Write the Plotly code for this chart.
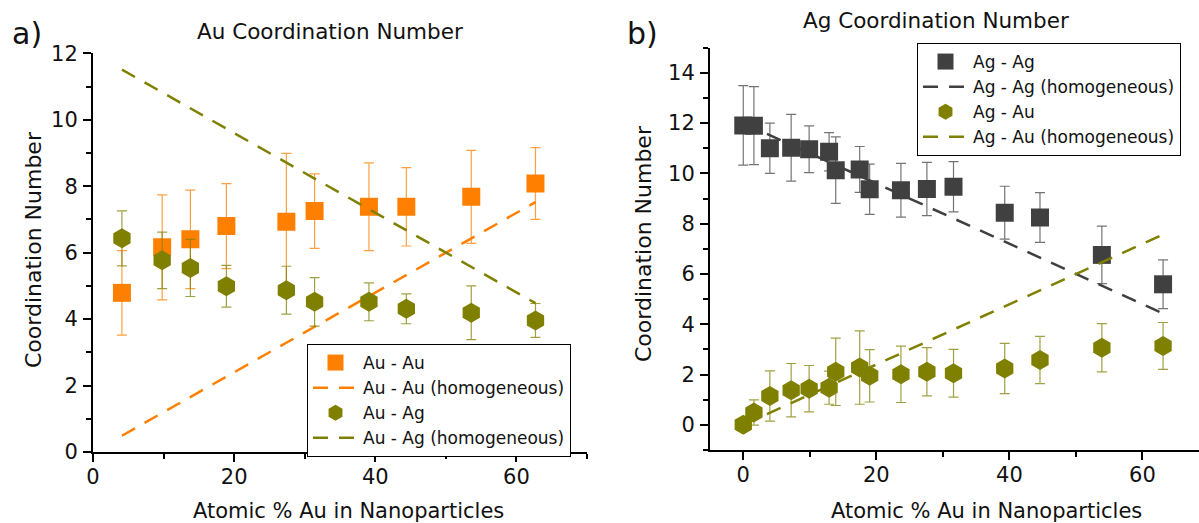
import plotly.graph_objects as go

# ---------------- data: panel a) Au coordination ----------------
au_x = [4.1, 9.8, 13.8, 18.9, 27.4, 31.4, 39.1, 44.4, 53.6, 62.7]
au_au = [4.79, 6.16, 6.40, 6.80, 6.93, 7.25, 7.38, 7.38, 7.68, 8.08]
au_au_err = [1.27, 1.58, 1.48, 1.28, 2.06, 1.12, 1.32, 1.18, 1.40, 1.08]
au_ag = [6.43, 5.77, 5.54, 4.99, 4.87, 4.52, 4.52, 4.31, 4.19, 3.96]
au_ag_err = [0.83, 0.85, 0.86, 0.63, 0.72, 0.73, 0.57, 0.45, 0.81, 0.51]
au_au_hom = [0.49, 1.18, 1.66, 2.27, 3.29, 3.77, 4.69, 5.33, 6.43, 7.52]
au_ag_hom = [11.51, 10.82, 10.34, 9.73, 8.71, 8.23, 7.31, 6.67, 5.57, 4.48]

# ---------------- data: panel b) Ag coordination ----------------
ag_x = [0.0, 1.6, 4.0, 7.2, 9.9, 12.9, 13.9, 17.5, 19.0, 23.7, 27.6, 31.6, 39.3, 44.6, 53.9, 63.1]
ag_ag = [11.91, 11.90, 11.00, 11.02, 10.96, 10.86, 10.13, 10.16, 9.37, 9.33, 9.38, 9.47, 8.44, 8.25, 6.76, 5.59]
ag_ag_err = [1.58, 1.55, 1.00, 1.33, 0.93, 0.76, 1.32, 0.91, 1.00, 1.07, 1.06, 1.00, 1.05, 0.99, 1.14, 0.97]
ag_au = [0.00, 0.49, 1.15, 1.38, 1.44, 1.48, 2.11, 2.28, 1.95, 2.01, 2.11, 2.05, 2.24, 2.58, 3.07, 3.14]
ag_au_err = [0.10, 0.50, 1.00, 1.06, 0.92, 0.66, 1.34, 1.46, 1.04, 1.12, 0.96, 0.95, 1.00, 0.94, 0.96, 0.93]
ag_ag_hom = [12.00, 11.81, 11.52, 11.14, 10.81, 10.45, 10.33, 9.90, 9.72, 9.16, 8.69, 8.21, 7.28, 6.65, 5.53, 4.43]
ag_au_hom = [0.00, 0.19, 0.48, 0.86, 1.19, 1.55, 1.67, 2.10, 2.28, 2.84, 3.31, 3.79, 4.72, 5.35, 6.47, 7.57]

W, H = 1199, 523
FONT = "DejaVu Sans"
ORANGE = "#FF8000"
OLIVE = "#808000"
GRAY = "#404040"


def px_x(p):
    return p / W


def px_y(p):
    return 1 - p / H


fig = go.Figure()

# panel a
fig.add_trace(go.Scatter(
    x=au_x, y=au_au, mode="markers", name="Au - Au",
    marker=dict(symbol="square", size=18, color=ORANGE),
    error_y=dict(type="data", array=au_au_err, color="rgba(255,128,0,0.75)", thickness=1.2, width=5),
    xaxis="x", yaxis="y", legend="legend"))
fig.add_trace(go.Scatter(
    x=au_x, y=au_au_hom, mode="lines", name="Au - Au (homogeneous)",
    line=dict(color=ORANGE, width=2.5, dash="15px,11px"),
    xaxis="x", yaxis="y", legend="legend"))
fig.add_trace(go.Scatter(
    x=au_x, y=au_ag, mode="markers", name="Au - Ag",
    marker=dict(symbol="hexagon", size=20, color=OLIVE),
    error_y=dict(type="data", array=au_ag_err, color="rgba(128,128,0,0.75)", thickness=1.2, width=5),
    xaxis="x", yaxis="y", legend="legend"))
fig.add_trace(go.Scatter(
    x=au_x, y=au_ag_hom, mode="lines", name="Au - Ag (homogeneous)",
    line=dict(color=OLIVE, width=2.5, dash="15px,11px"),
    xaxis="x", yaxis="y", legend="legend"))

# panel b
fig.add_trace(go.Scatter(
    x=ag_x, y=ag_ag, mode="markers", name="Ag - Ag",
    marker=dict(symbol="square", size=18, color=GRAY),
    error_y=dict(type="data", array=ag_ag_err, color="rgba(70,70,70,0.75)", thickness=1.2, width=5),
    xaxis="x2", yaxis="y2", legend="legend2"))
fig.add_trace(go.Scatter(
    x=ag_x, y=ag_ag_hom, mode="lines", name="Ag - Ag (homogeneous)",
    line=dict(color=GRAY, width=2.5, dash="15px,11px"),
    xaxis="x2", yaxis="y2", legend="legend2"))
fig.add_trace(go.Scatter(
    x=ag_x, y=ag_au, mode="markers", name="Ag - Au",
    marker=dict(symbol="hexagon", size=20, color=OLIVE),
    error_y=dict(type="data", array=ag_au_err, color="rgba(128,128,0,0.75)", thickness=1.2, width=5),
    xaxis="x2", yaxis="y2", legend="legend2"))
fig.add_trace(go.Scatter(
    x=ag_x, y=ag_au_hom, mode="lines", name="Ag - Au (homogeneous)",
    line=dict(color=OLIVE, width=2.5, dash="15px,11px"),
    xaxis="x2", yaxis="y2", legend="legend2"))

axis_common = dict(
    showline=True, linecolor="black", linewidth=2, mirror=False,
    showgrid=False, zeroline=False, automargin=False,
    ticks="outside", ticklen=8, tickwidth=2, tickcolor="black",
    tickfont=dict(family=FONT, size=21, color="#111"),
)
minor_common = dict(ticks="outside", ticklen=5, tickwidth=1.5, tickcolor="black")

fig.update_layout(
    width=W, height=H, autosize=False,
    margin=dict(l=0, r=0, t=0, b=0, pad=0, autoexpand=False),
    paper_bgcolor="white", plot_bgcolor="white",
    font=dict(family=FONT, color="#111"),
    xaxis=dict(domain=[px_x(93), px_x(587)], range=[0, 70], dtick=20, tick0=0,
               minor=dict(dtick=10, tick0=0, **minor_common), ticklabelstandoff=-3,
               anchor="y", **axis_common),
    yaxis=dict(domain=[px_y(452), px_y(53.3)], range=[0, 12], dtick=2, tick0=0,
               minor=dict(dtick=1, tick0=0, **minor_common), ticklabelstandoff=1,
               anchor="x", **axis_common),
    xaxis2=dict(domain=[px_x(710), 1.0], range=[-5, 68.5], dtick=20, tick0=0,
                minor=dict(dtick=10, tick0=0, **minor_common), ticklabelstandoff=-3,
                anchor="y2", **axis_common),
    yaxis2=dict(domain=[px_y(450), px_y(47.7)], range=[-1, 15], dtick=2, tick0=0,
                minor=dict(dtick=1, tick0=0, **minor_common), ticklabelstandoff=1,
                anchor="x2", **axis_common),
    legend=dict(x=px_x(307), y=px_y(344), xanchor="left", yanchor="top",
                bordercolor="black", borderwidth=1, bgcolor="white", itemwidth=45,
                font=dict(family=FONT, size=17, color="#111"), tracegroupgap=0),
    legend2=dict(x=px_x(917), y=px_y(43), xanchor="left", yanchor="top",
                 bordercolor="black", borderwidth=1, bgcolor="white", itemwidth=45,
                 font=dict(family=FONT, size=17, color="#111"), tracegroupgap=0),
    showlegend=True,
)

annots = [
    dict(text="a)", x=px_x(27), y=px_y(34), font=dict(size=30)),
    dict(text="b)", x=px_x(642), y=px_y(33), font=dict(size=30)),
    dict(text="Au Coordination Number", x=px_x(330), y=px_y(31), font=dict(size=21.5)),
    dict(text="Ag Coordination Number", x=px_x(936), y=px_y(21), font=dict(size=21.5)),
    dict(text="Atomic % Au in Nanoparticles", x=px_x(348), y=px_y(511), font=dict(size=21)),
    dict(text="Atomic % Au in Nanoparticles", x=px_x(986), y=px_y(511), font=dict(size=21)),
    dict(text="Coordination Number", x=px_x(33), y=px_y(250), font=dict(size=22), textangle=-90),
    dict(text="Coordination Number", x=px_x(643), y=px_y(244), font=dict(size=22), textangle=-90),
]
for a in annots:
    a.update(xref="paper", yref="paper", showarrow=False, xanchor="center", yanchor="middle")
    a["font"].update(family=FONT, color="#111")
    fig.add_annotation(**a)

fig.write_html("out.html")
